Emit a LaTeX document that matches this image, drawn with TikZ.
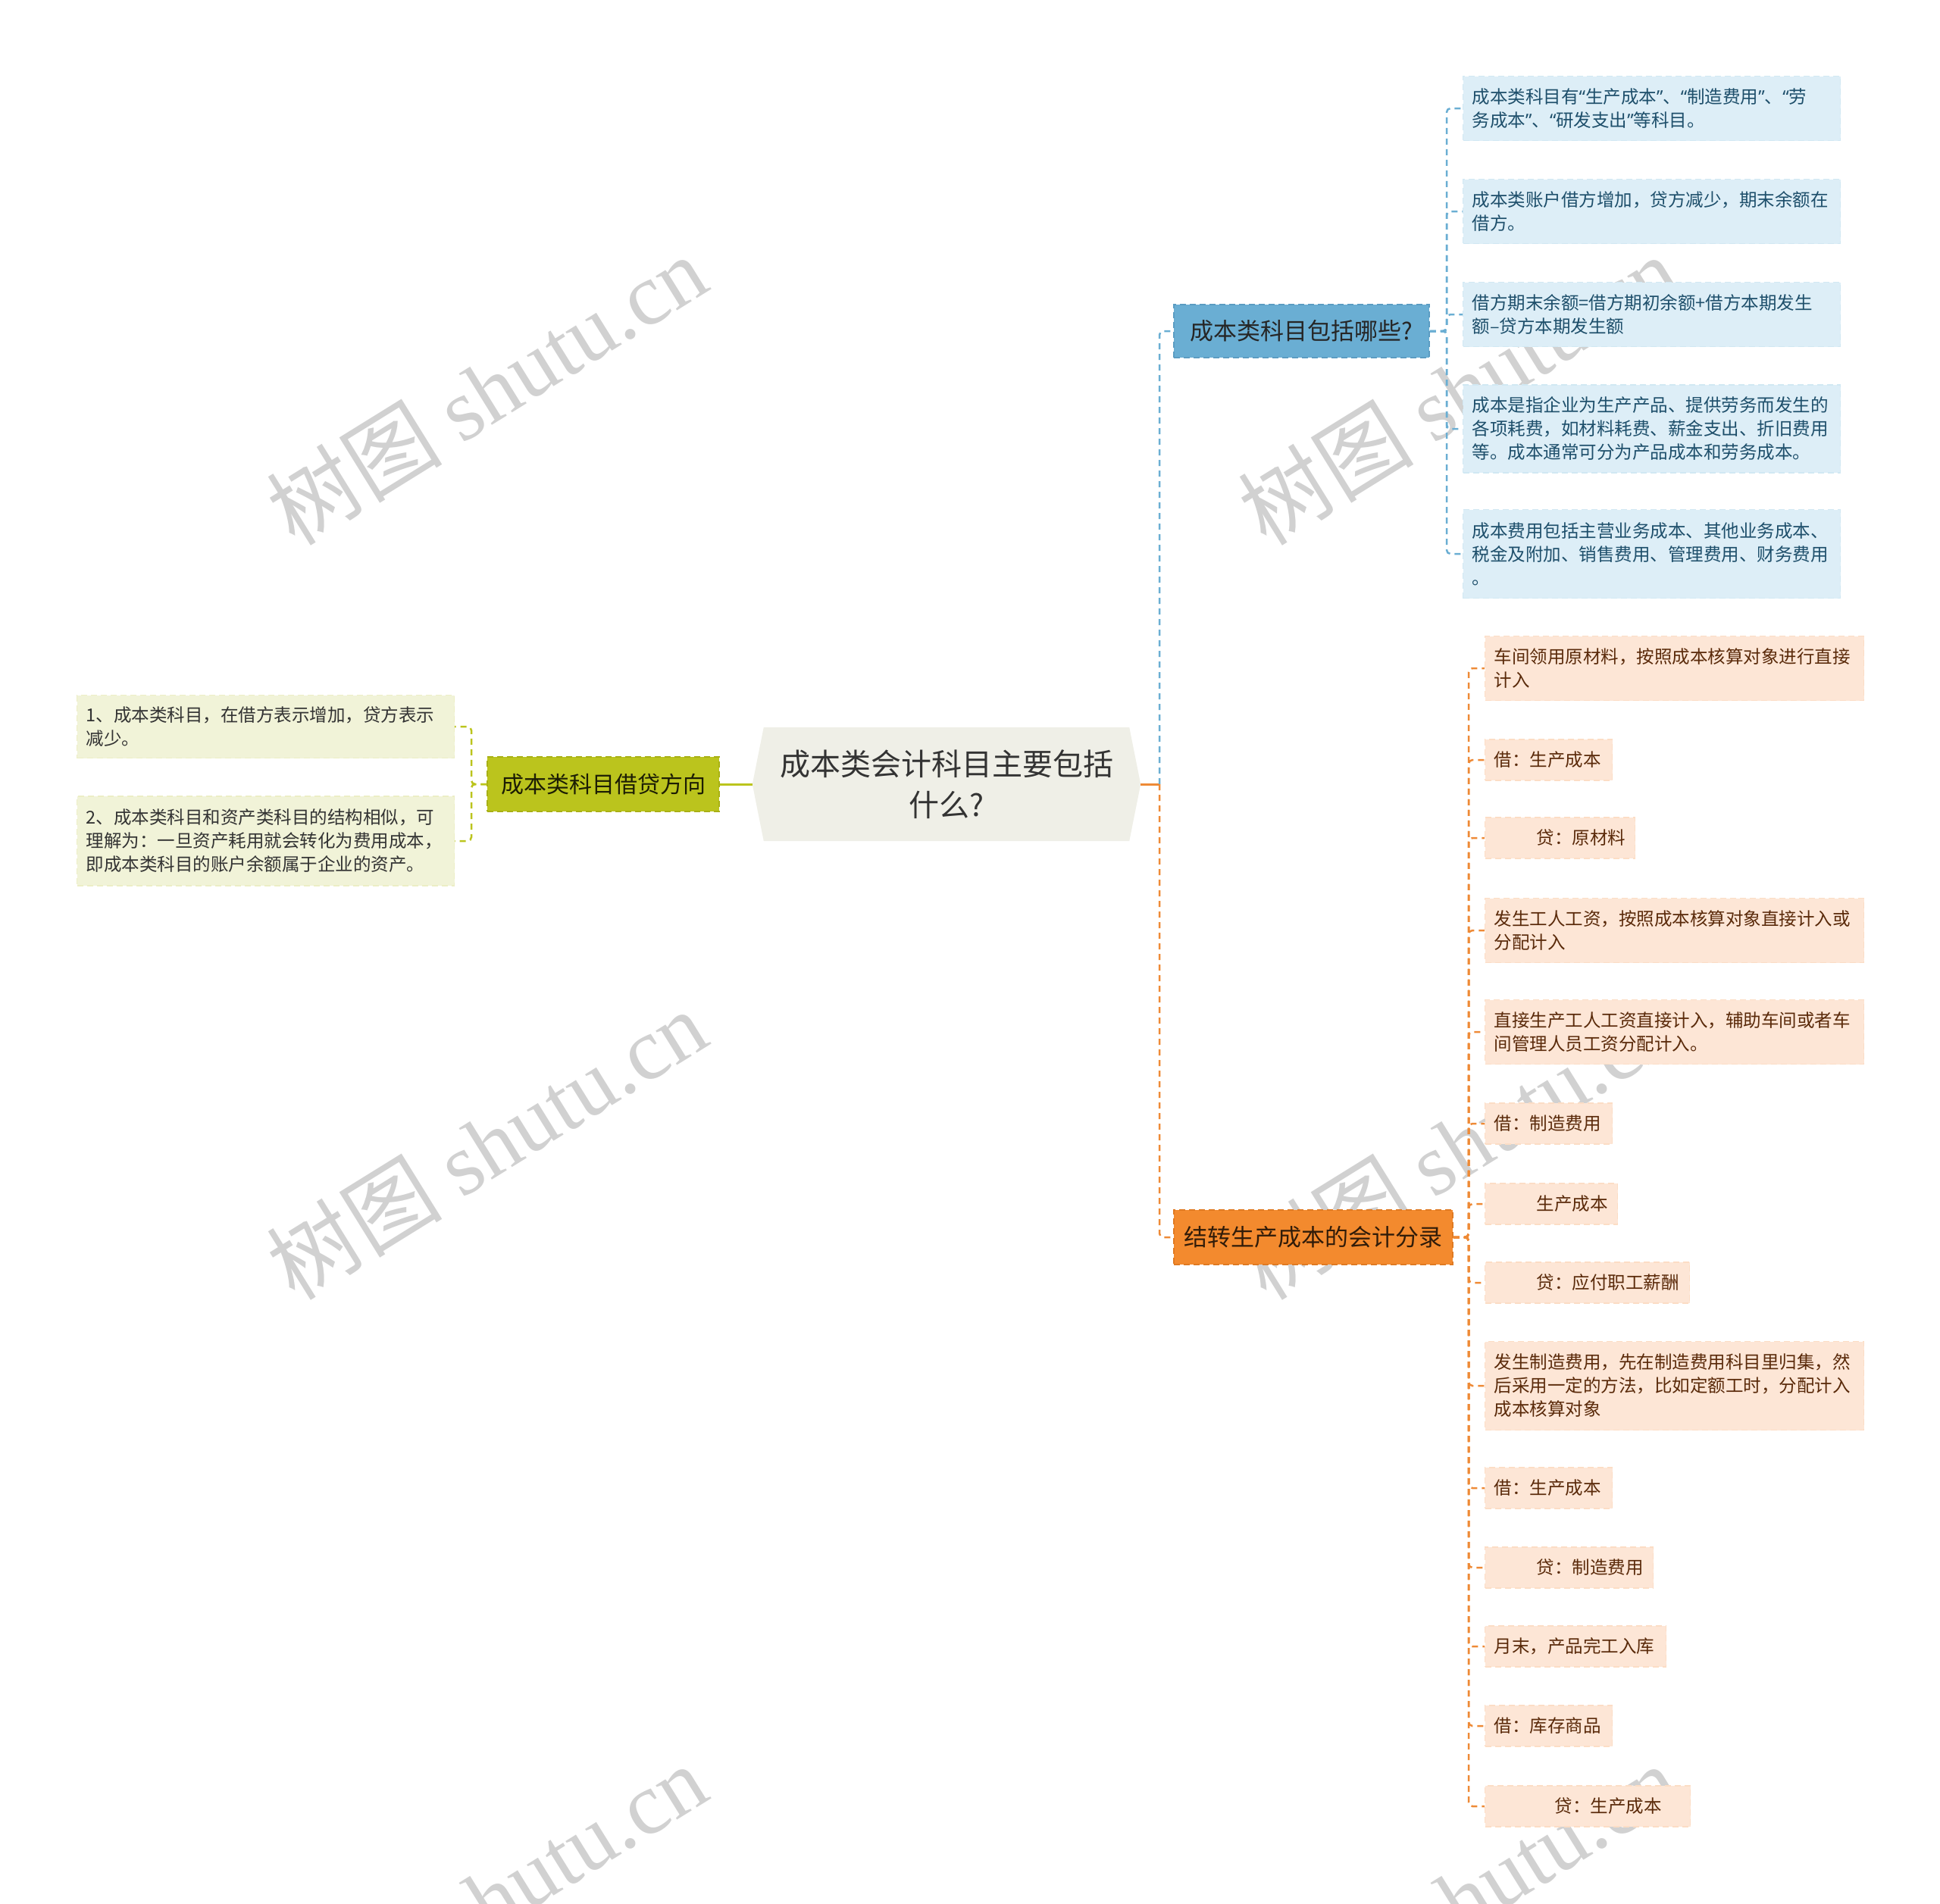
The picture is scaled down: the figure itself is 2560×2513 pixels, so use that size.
\documentclass[tikz,border=0pt]{standalone}
\usepackage{fontspec}
\setmainfont{Noto Sans CJK SC}
\newfontfamily\wmlatin{Liberation Serif}
\newfontfamily\quotefont{Noto Sans}
\newcommand\myql{{\quotefont “}}
\newcommand\myqr{{\quotefont ”}}
\usetikzlibrary{backgrounds}
\definecolor{cfill}{HTML}{EFEFE7}
\definecolor{ctext}{HTML}{333333}
\definecolor{bmain}{HTML}{6AAED3}
\definecolor{bmaindraw}{HTML}{5B9CC2}
\definecolor{bchildfill}{HTML}{DDEEF7}
\definecolor{bchildtext}{HTML}{1E4F6B}
\definecolor{omain}{HTML}{F38A2E}
\definecolor{omaindraw}{HTML}{E07A22}
\definecolor{ochildfill}{HTML}{FDE6D6}
\definecolor{ochildtext}{HTML}{5A2A0A}
\definecolor{gmain}{HTML}{BBC41D}
\definecolor{gmaindraw}{HTML}{A8B015}
\definecolor{gchildfill}{HTML}{F1F3D8}
\definecolor{gchildtext}{HTML}{333333}
\definecolor{bline}{HTML}{6AAED3}
\definecolor{oline}{HTML}{EE8A36}
\definecolor{gline}{HTML}{BBC41D}
\begin{document}
\begin{tikzpicture}[x=1pt,y=-1pt,
  mainbox/.style={draw, dashed, dash pattern=on 8pt off 5pt, line width=1.5pt, inner sep=0pt, font=\fontsize{31}{38}\selectfont},
  child/.style={anchor=west, align=left, inner xsep=12pt, inner ysep=0pt, line width=1.2pt, dashed, dash pattern=on 8pt off 5pt, font=\fontsize{23.5}{31}\selectfont},
  bchild/.style={child, fill=bchildfill, draw=bchildfill!90!bmain, text=bchildtext},
  ochild/.style={child, fill=ochildfill, draw=ochildfill!90!omain, text=ochildtext},
  gchild/.style={child, fill=gchildfill, draw=gchildfill!90!gmain, text=gchildtext},
  bconn/.style={draw=bline, line width=2.5pt, dash pattern=on 8pt off 6pt, rounded corners=5pt},
  oconn/.style={draw=oline, line width=2.5pt, dash pattern=on 8pt off 6pt, rounded corners=5pt},
  gconn/.style={draw=gline, line width=2.5pt, dash pattern=on 8pt off 6pt, rounded corners=5pt},
  wm/.style={text=black!18, inner sep=0pt, font=\fontsize{116}{120}\selectfont}
]
\useasboundingbox (0,0) rectangle (2560,2513);

% watermarks
\node[wm, rotate=31.8] (w1) at (642,514) {树图 {\wmlatin shutu.cn}};
\node[wm, rotate=31.8] (w2) at (1924,514) {树图 {\wmlatin shutu.cn}};
\node[wm, rotate=31.8] (w3) at (642,1510) {树图 {\wmlatin shutu.cn}};
\node[wm, rotate=31.8] (w4) at (1924,1510) {树图 {\wmlatin shutu.cn}};
\node[wm, rotate=31.8] (w5) at (642,2506) {树图 {\wmlatin shutu.cn}};
\node[wm, rotate=31.8] (w6) at (1924,2506) {树图 {\wmlatin shutu.cn}};

% central node
\node[minimum width=512pt, minimum height=150pt, inner sep=0pt, align=center, text=ctext,
  font=\fontsize{40}{54}\selectfont] (c) at (1249,1035) {成本类会计科目主要包括\\什么?};
\begin{scope}[on background layer]
  \fill[cfill] (c.west) -- ([xshift=15pt]c.north west) -- ([xshift=-15pt]c.north east) -- (c.east)
    -- ([xshift=-15pt]c.south east) -- ([xshift=15pt]c.south west) -- cycle;
\end{scope}

% main branches
\node[mainbox, fill=gmain, draw=gmaindraw, text=black!85!gmain, minimum width=306pt, minimum height=72pt,
  font=\fontsize{30}{36}\selectfont] (gm) at (796,1035) {成本类科目借贷方向};
\node[mainbox, fill=bmain, draw=bmaindraw, text=black!85, minimum width=337pt, minimum height=70pt] (bm) at (1717.5,437) {成本类科目包括哪些?};
\node[mainbox, fill=omain, draw=omaindraw, text=black!80!omain, minimum width=368pt, minimum height=72pt] (om) at (1733,1633) {结转生产成本的会计分录};

% green children
\node[gchild, text width=474pt, minimum height=83pt] (g1) at (101,959) {1、成本类科目，在借方表示增加，贷方表示\\减少。};
\node[gchild, text width=474pt, minimum height=118pt] (g2) at (101,1110) {2、成本类科目和资产类科目的结构相似，可\\理解为：一旦资产耗用就会转化为费用成本，\\即成本类科目的账户余额属于企业的资产。};

% blue children
\node[bchild, text width=474pt, minimum height=85pt] (b1) at (1930,143) {成本类科目有\myql 生产成本\myqr 、\myql 制造费用\myqr 、\myql 劳\\务成本\myqr 、\myql 研发支出\myqr 等科目。};
\node[bchild, text width=474pt, minimum height=85pt] (b2) at (1930,279) {成本类账户借方增加，贷方减少，期末余额在\\借方。};
\node[bchild, text width=474pt, minimum height=85pt] (b3) at (1930,415) {借方期末余额=借方期初余额+借方本期发生\\额–贷方本期发生额};
\node[bchild, text width=474pt, minimum height=116pt] (b4) at (1930,566) {成本是指企业为生产产品、提供劳务而发生的\\各项耗费，如材料耗费、薪金支出、折旧费用\\等。成本通常可分为产品成本和劳务成本。};
\node[bchild, text width=474pt, minimum height=117pt] (b5) at (1930,731) {成本费用包括主营业务成本、其他业务成本、\\税金及附加、销售费用、管理费用、财务费用\\。};

% orange children
\node[ochild, text width=476pt, minimum height=85pt] (o1) at (1959,882) {车间领用原材料，按照成本核算对象进行直接\\计入};
\node[ochild, text width=144pt, minimum height=54pt] (o2) at (1959,1003) {借：生产成本};
\node[ochild, text width=174pt, minimum height=54pt] (o3) at (1959,1106) {\hspace*{56pt}贷：原材料};
\node[ochild, text width=476pt, minimum height=85pt] (o4) at (1959,1228) {发生工人工资，按照成本核算对象直接计入或\\分配计入};
\node[ochild, text width=476pt, minimum height=85pt] (o5) at (1959,1362) {直接生产工人工资直接计入，辅助车间或者车\\间管理人员工资分配计入。};
\node[ochild, text width=144pt, minimum height=54pt] (o6) at (1959,1483) {借：制造费用};
\node[ochild, text width=151pt, minimum height=54pt] (o7) at (1959,1589) {\hspace*{56pt}生产成本};
\node[ochild, text width=246pt, minimum height=54pt] (o8) at (1959,1693) {\hspace*{56pt}贷：应付职工薪酬};
\node[ochild, text width=476pt, minimum height=117pt] (o9) at (1959,1829) {发生制造费用，先在制造费用科目里归集，然\\后采用一定的方法，比如定额工时，分配计入\\成本核算对象};
\node[ochild, text width=144pt, minimum height=54pt] (o10) at (1959,1964) {借：生产成本};
\node[ochild, text width=198pt, minimum height=54pt] (o11) at (1959,2069) {\hspace*{56pt}贷：制造费用};
\node[ochild, text width=215pt, minimum height=54pt] (o12) at (1959,2173) {月末，产品完工入库};
\node[ochild, text width=144pt, minimum height=54pt] (o13) at (1959,2278) {借：库存商品};
\node[ochild, text width=247pt, minimum height=54pt] (o14) at (1959,2384) {\hspace*{80pt}贷：生产成本};

% junction coordinates
\coordinate (cj) at (1530,1035);
\coordinate (gj) at (622,1035);
\coordinate (bj) at (1909,437);
\coordinate (oj) at (1938,1633);

% connectors
\draw[draw=gline, line width=3pt] (c.west) -- (gm.east);
\draw[draw=oline, line width=3pt] (c.east) -- (cj);
\draw[bconn] (cj) |- (bm.west);
\draw[oconn] (cj) |- (om.west);
\foreach \k in {g1,g2} \draw[gconn] (gm.west) -- (gj) |- (\k.east);
\foreach \k in {b1,b2,b3,b4,b5} \draw[bconn] (bm.east) -- (bj) |- (\k.west);
\foreach \k in {o1,o2,o3,o4,o5,o6,o7,o8,o9,o10,o11,o12,o13,o14} \draw[oconn] (om.east) -- (oj) |- (\k.west);
\end{tikzpicture}
\end{document}
